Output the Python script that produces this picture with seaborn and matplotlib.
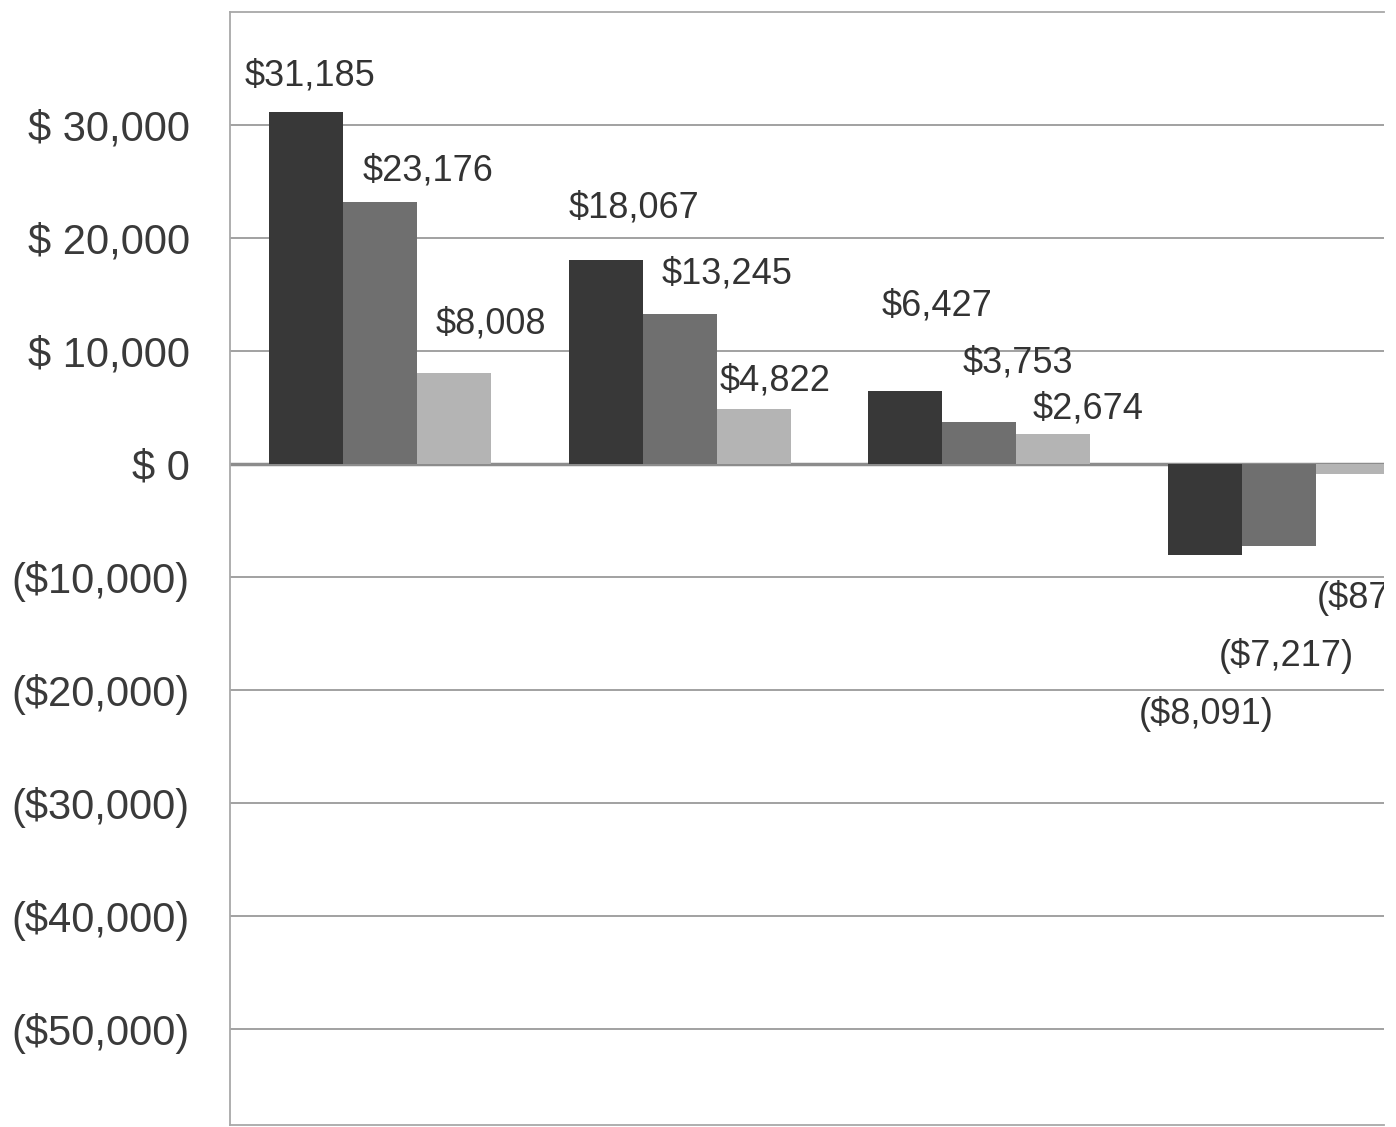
import matplotlib
matplotlib.use("Agg")
import matplotlib.pyplot as plt
from matplotlib.ticker import FixedLocator, FuncFormatter
import numpy as np
import pandas as pd
import seaborn as sns

# veriler
groups = ["1", "2", "3", "4"]
series = ["Series 1", "Series 2", "Series 3"]
series1 = [31185, 18067, 6427, -8091]
series2 = [23176, 13245, 3753, -7217]
series3 = [8008, 4822, 2674, -870]
y_ticks = [-50000, -40000, -30000, -20000, -10000, 0, 10000, 20000, 30000]

df = pd.DataFrame({
    "group": groups * 3,
    "series": np.repeat(series, len(groups)),
    "value": series1 + series2 + series3,
})

bar_colors = ["#383838", "#6f6f6f", "#b4b4b4"]

# etiketlerin bar ucundan kaymasi (piksel)
label_offsets = [
    [(4, 36), (28, 52), (32, 85), (1, -159)],
    [(48, 31), (47, 40), (39, 59), (7, -110)],
    [(37, 49), (22, 28), (35, 25), (16, -124)],
]


def money(v, pos=None):
    if v < 0:
        return "(${:,.0f})".format(-v)
    return "$ {:,.0f}".format(v)


def money_label(v):
    if v < 0:
        return "(${:,.0f})".format(-v)
    return "${:,.0f}".format(v)


sns.set_theme(style="white")
plt.rcParams["font.family"] = ["Liberation Sans", "DejaVu Sans"]

fig = plt.figure(figsize=(13.96, 11.27), dpi=100)
ax = fig.add_axes([230 / 1396, 2 / 1127, (1384 - 230) / 1396, (1125 - 12) / 1127])

ax.axhline(0, color="#8c8c8c", lw=2.5, zorder=1)
sns.barplot(data=df, x="group", y="value", hue="series", palette=bar_colors,
            width=0.74, saturation=1, edgecolor="none", legend=False, ax=ax, zorder=2)

ax.set_ylim(-58500, 40000)
ax.set_xlim(-0.5, 3.35)
ax.yaxis.set_major_locator(FixedLocator(y_ticks))
ax.yaxis.set_major_formatter(FuncFormatter(money))
ax.yaxis.grid(True, color="#9a9a9a", lw=1.3)
ax.set_axisbelow(True)
ax.set_xticks([])
ax.set_xlabel("")
ax.set_ylabel("")
ax.tick_params(axis="y", length=0, pad=29, labelsize=30, labelcolor="#3a3a3a")

for side in ["left", "top", "bottom"]:
    ax.spines[side].set_color("#a8a8a8")
    ax.spines[side].set_linewidth(1.3)
ax.spines["right"].set_visible(False)

# bar etiketleri
for i, cont in enumerate(ax.containers):
    for j, bar in enumerate(cont):
        v = bar.get_height()
        x = bar.get_x() + bar.get_width() / 2
        dx, dy = label_offsets[i][j]
        ax.annotate(money_label(v), (x, v), xytext=(dx, dy), textcoords="offset pixels",
                    ha="center", va="center", fontsize=26, color="#333333", clip_on=True)

fig.savefig("out.png", dpi=100, facecolor="white")
